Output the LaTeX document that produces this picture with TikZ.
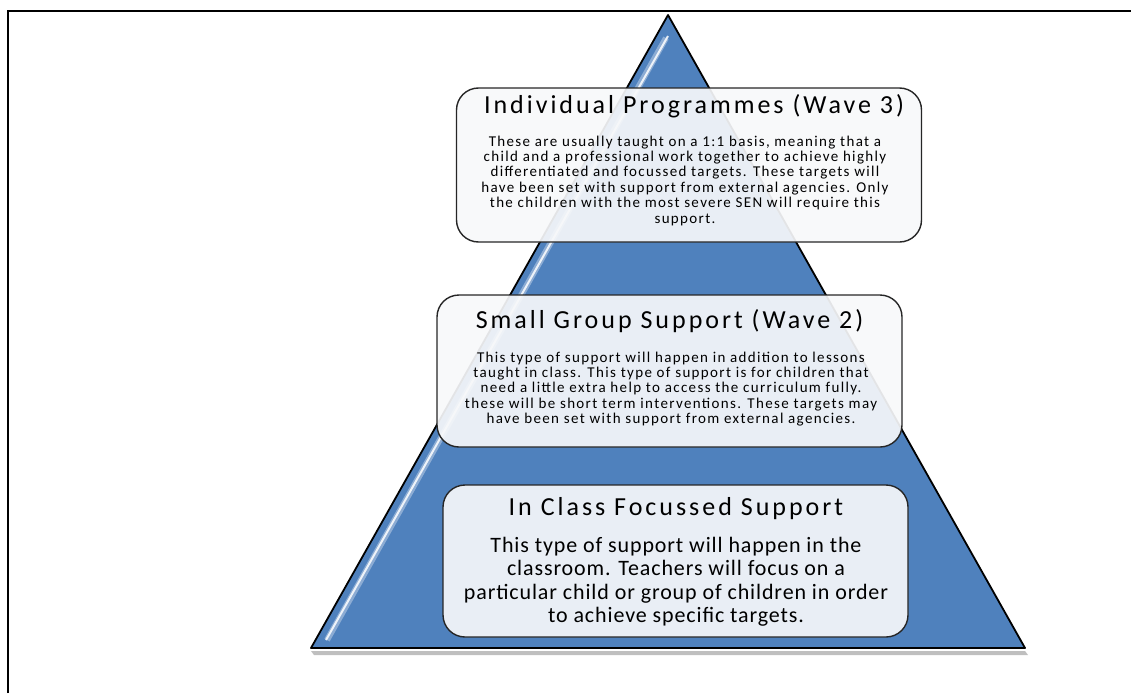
\documentclass[tikz,border=0pt]{standalone}
\usepackage{fontspec}
\setmainfont{Carlito}
\newfontfamily\titlefont[LetterSpace=11.5]{Carlito}
\newfontfamily\smallfont[LetterSpace=9]{Carlito}
\newfontfamily\largefont[LetterSpace=4]{Carlito}
\usetikzlibrary{shadows}
\definecolor{pyrblue}{HTML}{4F81BD}
\definecolor{boxfill}{HTML}{F7F8FA}

\begin{document}
\begin{tikzpicture}[x=1pt, y=-1pt,
    wave/.style={rectangle, rounded corners=22pt, draw=black!85, line width=1.4pt,
        fill=boxfill, fill opacity=0.92, minimum width=465pt, inner sep=0pt},
    wavetitle/.style={font=\titlefont\fontsize{26}{28}\selectfont, inner sep=0pt},
    wavetext/.style={font=\smallfont\fontsize{15}{15.4}\selectfont, align=center, inner sep=0pt},
    bigtext/.style={font=\largefont\fontsize{22}{23.5}\selectfont, align=center, inner sep=0pt}]

    \useasboundingbox (0,0) rectangle (1131,693);
    % frame
    \draw[line width=2pt] (7.5,693) -- (7.5,11) -- (1131,11);

    % pyramid
    \coordinate (apex) at (668,15);
    \coordinate (bl) at (311,648);
    \coordinate (br) at (1025,648);
    \fill[black, opacity=0.25] (311,651) -- (1025,651) -- (1028,655) -- (314,655) -- cycle;
    \filldraw[fill=pyrblue, draw=black, line width=1.8pt, line join=round] (apex) -- (bl) -- (br) -- cycle;
    \draw[white, opacity=0.35, line width=6pt] (666,38) -- (327,640);
    \draw[white, opacity=0.85, line width=2pt] (668,36) -- (326,640);

    % Wave 3
    \node[wave, minimum height=154pt] (indiv) at (689,165) {};
    \node[wavetitle, anchor=base] (indivtitle) at (694,113) {Individual Programmes (Wave 3)};
    \node[wavetext, anchor=base] (indivtext) at (685,223) {These are usually taught on a 1:1 basis, meaning that a\\
        child and a professional work together to achieve highly\\
        differentiated and focussed targets. These targets will\\
        have been set with support from external agencies. Only\\
        the children with the most severe SEN will require this\\
        support.};

    % Wave 2
    \node[wave, minimum height=152pt] (small) at (669.5,371) {};
    \node[wavetitle, anchor=base] (smalltitle) at (669.5,328) {Small Group Support (Wave 2)};
    \node[wavetext, anchor=base] (smalltext) at (671,423.6) {This type of support will happen in addition to lessons\\
        taught in class. This type of support is for children that\\
        need a little extra help to access the curriculum fully.\\
        these will be short term interventions. These targets may\\
        have been set with support from external agencies.};

    % Wave 1
    \node[wave, minimum height=152pt] (inclass) at (675.5,561) {};
    \node[wavetitle, anchor=base] (inclasstitle) at (676,515) {In Class Focussed Support};
    \node[bigtext, anchor=base] (inclasstext) at (676,622.5) {This type of support will happen in the\\
        classroom. Teachers will focus on a\\
        particular child or group of children in order\\
        to achieve specific targets.};
\end{tikzpicture}
\end{document}
